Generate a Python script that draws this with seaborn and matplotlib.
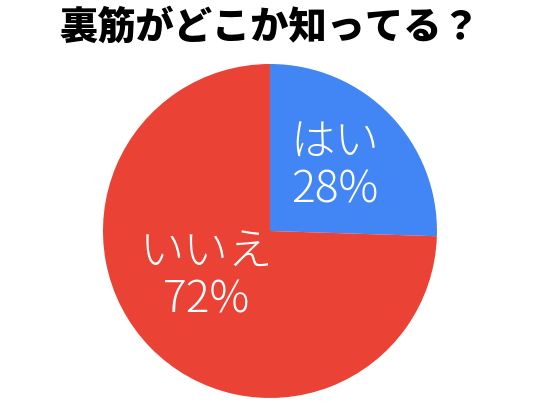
import matplotlib
matplotlib.use("Agg")
import matplotlib.pyplot as plt
import seaborn as sns

sns.set_theme(style="white")
plt.rcParams['font.family'] = ['Noto Sans CJK JP', 'DejaVu Sans']

title = "裏筋がどこか知ってる？"
categories = ["はい", "いいえ"]
percent_labels = ["28%", "72%"]
slice_sizes = [25.5, 74.5]   # slice sizes as drawn in the picture
colors = ["#4285F4", "#EA4335"]

fig = plt.figure(figsize=(5.4, 4.12), dpi=100)
fig.patch.set_facecolor("white")
ax = fig.add_axes([0.1907, 0.034, 0.6185, 0.8107])
ax.pie(slice_sizes, colors=colors, startangle=90, counterclock=False,
       radius=1.0, wedgeprops=dict(linewidth=0))
ax.set_xlim(-1, 1)
ax.set_ylim(-1, 1)
ax.set_aspect("equal")
ax.axis("off")

label_pos = [(0.39, 0.39), (-0.38, -0.27)]
for (x, y), cat, pct in zip(label_pos, categories, percent_labels):
    ax.text(x, y, f"{cat}\n{pct}", ha="center", va="center", color="white",
            fontsize=32, fontweight="light", linespacing=1.08)

fig.text(0.5, 0.932, title, ha="center", va="center", fontsize=27.5,
         fontweight="heavy", color="black")

fig.savefig("out.png", dpi=100, facecolor="white")
